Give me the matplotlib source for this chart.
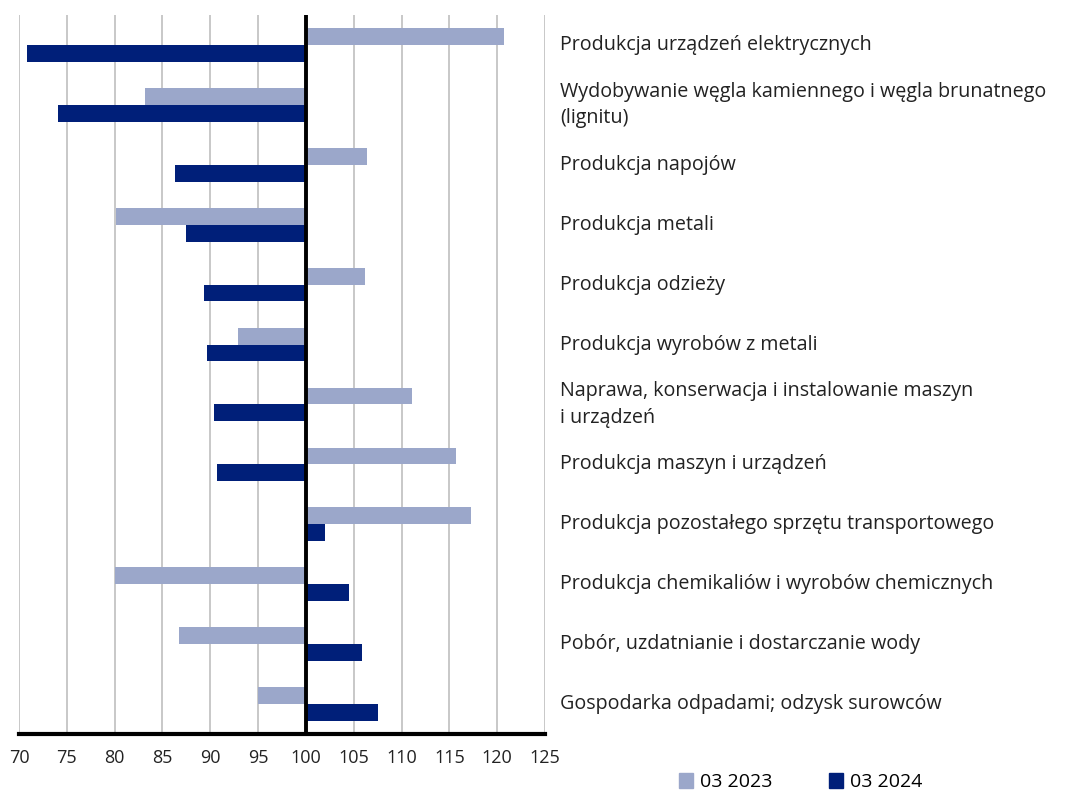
import matplotlib.pyplot as plt
import matplotlib.transforms as mtransforms
from matplotlib.patches import Patch
import numpy as np

plt.rcParams['font.family'] = ['Open Sans', 'DejaVu Sans']

# Dane
kategorie = [
    "Produkcja urządzeń elektrycznych",
    "Wydobywanie węgla kamiennego i węgla brunatnego\n(lignitu)",
    "Produkcja napojów",
    "Produkcja metali",
    "Produkcja odzieży",
    "Produkcja wyrobów z metali",
    "Naprawa, konserwacja i instalowanie maszyn\ni urządzeń",
    "Produkcja maszyn i urządzeń",
    "Produkcja pozostałego sprzętu transportowego",
    "Produkcja chemikaliów i wyrobów chemicznych",
    "Pobór, uzdatnianie i dostarczanie wody",
    "Gospodarka odpadami; odzysk surowców",
]
wartosci_2023 = [120.7, 83.2, 106.4, 80.1, 106.2, 92.9, 111.1, 115.7, 117.3, 80.0, 86.7, 95.0]
wartosci_2024 = [70.8, 74.1, 86.3, 87.5, 89.3, 89.7, 90.4, 90.7, 102.0, 104.5, 105.9, 107.5]
etykiety = ["03 2023", "03 2024"]

kolor_jasny = '#9BA7CA'
kolor_ciemny = '#001F79'
baza = 100

fig = plt.figure(figsize=(10.75, 7.96), dpi=100)
ax = fig.add_axes([0.0177, 0.078, 0.4893, 0.903])

y = np.arange(len(kategorie))
h = 0.28
w23 = np.array(wartosci_2023) - baza
w24 = np.array(wartosci_2024) - baza
ax.barh(y - h / 2, w23, height=h, left=baza, color=kolor_jasny, zorder=3)
ax.barh(y + h / 2, w24, height=h, left=baza, color=kolor_ciemny, zorder=3)

ax.set_xlim(70, 125)
ax.set_ylim(len(kategorie) - 0.5, -0.5)
ax.set_xticks(np.arange(70, 126, 5))
ax.set_yticks([])
ax.grid(axis='x', color='#BFBFBF', linewidth=1.2, zorder=0)
ax.axvline(baza, color='black', linewidth=2.8, zorder=4)

for s in ['top', 'right', 'left']:
    ax.spines[s].set_visible(False)
ax.spines['bottom'].set_linewidth(3)
ax.tick_params(axis='x', length=0, pad=11, labelsize=13, colors='#222222')

trans = mtransforms.blended_transform_factory(ax.transAxes, ax.transData)
for i, k in enumerate(kategorie):
    ax.text(1.0285, i, k, transform=trans, ha='left', va='center',
            fontsize=14.2, color='#222222', linespacing=1.45)

uchwyty = [Patch(color=kolor_jasny), Patch(color=kolor_ciemny)]
fig.legend(uchwyty, etykiety, loc='lower left', bbox_to_anchor=(0.615, -0.016),
           ncol=2, frameon=False, fontsize=14, handlelength=0.75, handleheight=0.75,
           handletextpad=0.35, columnspacing=2.9)

fig.savefig('out.png', dpi=100)
